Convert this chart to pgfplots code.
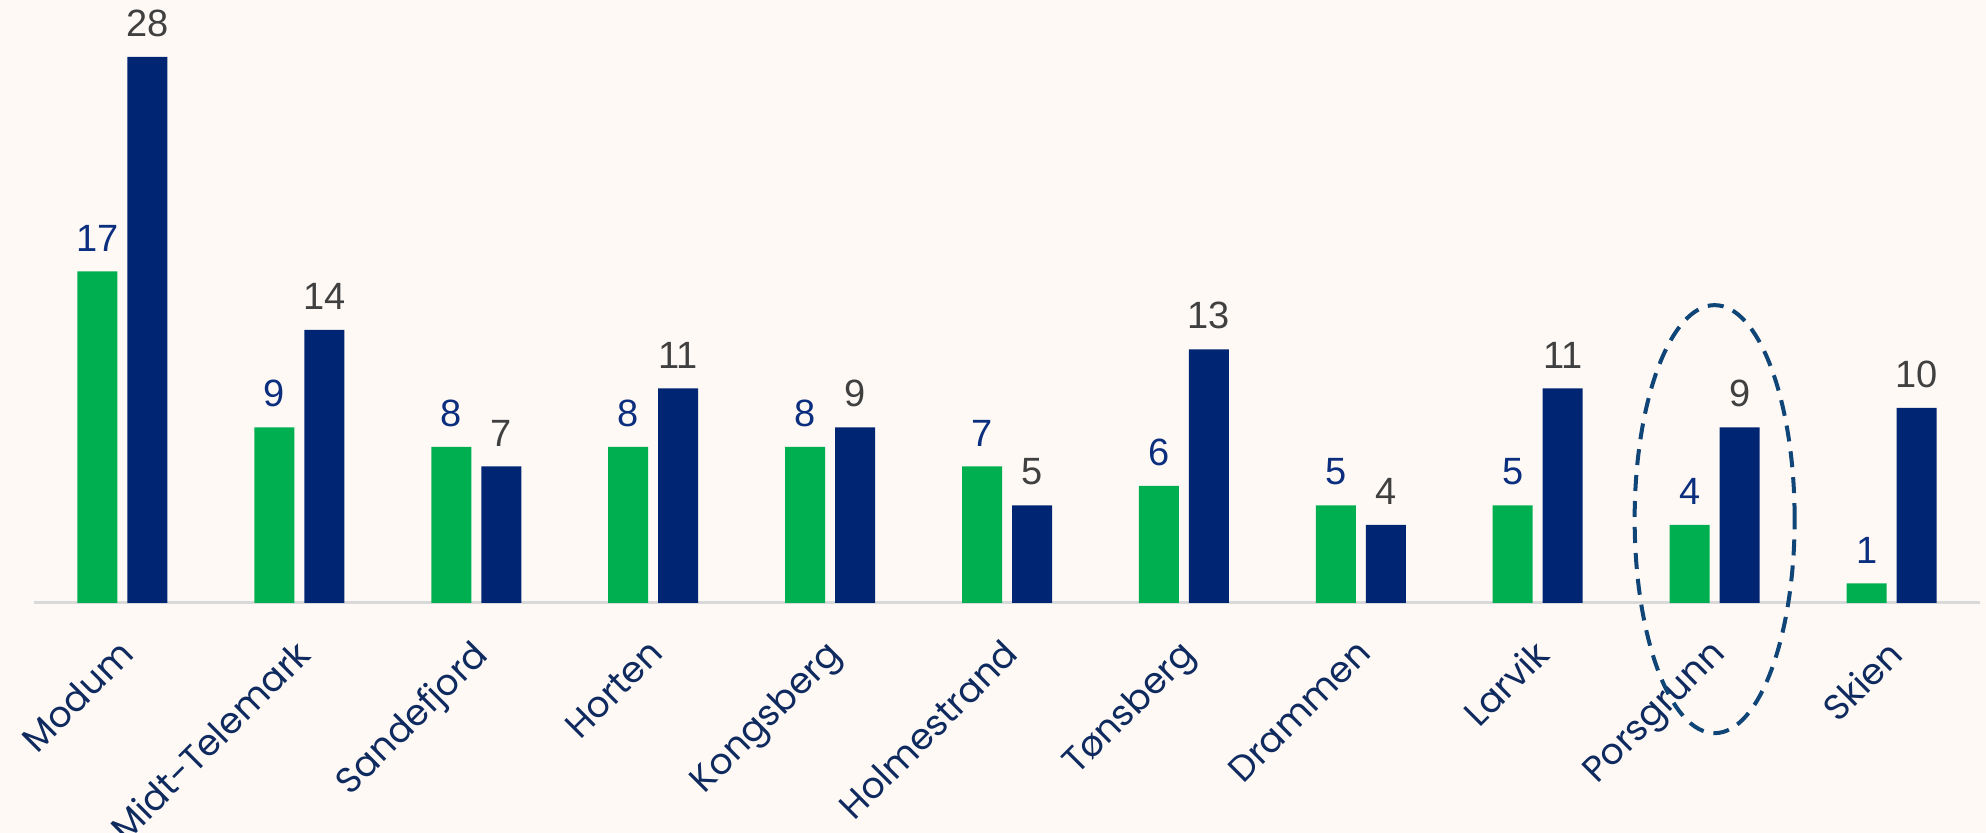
\documentclass[border=0pt]{standalone}
\usepackage{fontspec}
\usepackage{pgfplots}
\pgfplotsset{compat=1.18}
\setmainfont{Liberation Sans}
\newfontfamily\catfont{Poppins}

\definecolor{bg}{HTML}{FEF9F5}
\definecolor{grn}{HTML}{00B050}
\definecolor{navy}{HTML}{002673}
\definecolor{lblblue}{HTML}{0B2E7E}
\definecolor{lblgray}{HTML}{404040}
\definecolor{catblue}{HTML}{0F2A5F}
\definecolor{ring}{HTML}{0F4577}

\begin{document}
\begin{tikzpicture}
% page: 1986 x 833 px at 0.5pt per px, baseline at 603 px
\path[use as bounding box, fill=bg] (-17pt,-115pt) rectangle (976pt,301.5pt);
\begin{axis}[
  at={(0,0)}, anchor=south west,
  scale only axis, width=973pt, height=292.5pt,
  xmin=-0.5, xmax=10.5, ymin=0, ymax=30,
  clip=false,
  axis y line=none,
  axis x line*=bottom,
  x axis line style={-, draw=black!15, line width=1.5pt},
  xtick={0,...,10},
  xticklabels={Modum, Midt-Telemark, Sandefjord, Horten, Kongsberg, Holmestrand, Tønsberg, Drammen, Larvik, Porsgrunn, Skien},
  major tick length=0pt,
  xticklabel style={font=\catfont\fontsize{18}{20}\selectfont, text=catblue,
    anchor=north east, inner sep=0pt, xshift=-3pt, yshift=-17pt, rotate=45},
  /pgf/number format/assume math mode=true,
  every node near coord/.append style={font=\fontsize{19}{22}\selectfont,
    anchor=south, inner sep=0pt, yshift=10pt},
]
\addplot[ybar, bar width=20pt, bar shift=-12.5pt, fill=grn, draw=none,
  nodes near coords, every node near coord/.append style={text=lblblue, xshift=-12.5pt}] coordinates {
  (0,17) (1,9) (2,8) (3,8) (4,8) (5,7) (6,6) (7,5) (8,5) (9,4) (10,1)
};
\addplot[ybar, bar width=20pt, bar shift=12.5pt, fill=navy, draw=none,
  nodes near coords, every node near coord/.append style={text=lblgray, xshift=12.5pt}] coordinates {
  (0,28) (1,14) (2,7) (3,11) (4,9) (5,5) (6,13) (7,4) (8,11) (9,9) (10,10)
};
\draw[ring, line width=2pt, dash pattern=on 8pt off 5pt]
  (axis cs:9,4.3) ellipse [x radius=40pt, y radius=107pt];
\end{axis}
\end{tikzpicture}
\end{document}
